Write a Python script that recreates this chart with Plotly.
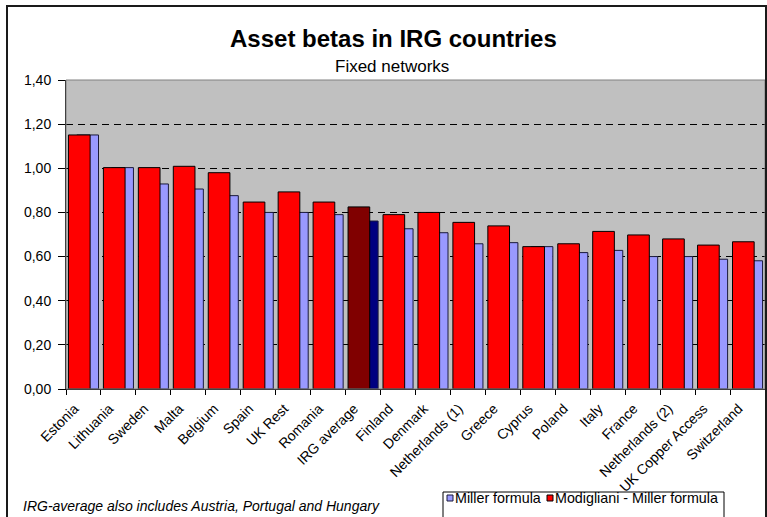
import plotly.graph_objects as go

# Asset beta estimates per country, fixed networks
categories = [
    "Estonia", "Lithuania", "Sweden", "Malta", "Belgium", "Spain", "UK Rest",
    "Romania", "IRG average", "Finland", "Denmark", "Netherlands (1)", "Greece",
    "Cyprus", "Poland", "Italy", "France", "Netherlands (2)", "UK Copper Access",
    "Switzerland",
]
modigliani_miller = [1.151, 1.003, 1.003, 1.009, 0.980, 0.847, 0.893, 0.847, 0.825,
                     0.790, 0.800, 0.755, 0.739, 0.645, 0.658, 0.714, 0.698, 0.680,
                     0.652, 0.667]
miller = [1.151, 1.003, 0.929, 0.906, 0.876, 0.800, 0.800, 0.790, 0.761, 0.726,
          0.708, 0.658, 0.663, 0.645, 0.618, 0.628, 0.600, 0.600, 0.588, 0.581]
y_ticks = [0.0, 0.2, 0.4, 0.6, 0.8, 1.0, 1.2, 1.4]

title_text = "Asset betas in IRG countries"
subtitle_text = "Fixed networks"
footnote_text = "IRG-average also includes Austria, Portugal and Hungary"
series_names = ["Miller formula", "Modigliani - Miller formula"]
highlight = "IRG average"

FONT = "Liberation Sans, Arial, sans-serif"
W, H = 767, 517
ML, MR, MT, MB = 66, 2, 80, 128
PW, PH = W - ML - MR, H - MT - MB


def px(x):
    return (x - ML) / PW


def py(y):
    return (H - MB - y) / PH


blue_cols = ["#000080" if c == highlight else "#9999FF" for c in categories]
red_cols = ["#800000" if c == highlight else "#FF0000" for c in categories]

fig = go.Figure()
fig.add_trace(go.Bar(
    x=categories, y=miller, name=series_names[0],
    marker=dict(color=blue_cols, line=dict(color="#1a1a3a", width=1)),
    width=0.62, offset=-0.19,
))
fig.add_trace(go.Bar(
    x=categories, y=modigliani_miller, name=series_names[1],
    marker=dict(color=red_cols, line=dict(color="#000000", width=1)),
    width=0.62, offset=-0.43,
))

shapes = [
    # plot area frame
    dict(type="rect", xref="paper", yref="paper", x0=0, x1=1, y0=0, y1=1,
         line=dict(color="#808080", width=1), layer="above"),
    # chart frame
    dict(type="rect", xref="paper", yref="paper", x0=px(7), x1=px(766),
         y0=py(560), y1=py(6), line=dict(color="#1a1a1a", width=2)),
    # legend box and swatches
    dict(type="rect", xref="paper", yref="paper", x0=px(443), x1=px(724),
         y0=py(560), y1=py(492), line=dict(color="#000000", width=1),
         fillcolor="white"),
    dict(type="rect", xref="paper", yref="paper", x0=px(447), x1=px(453),
         y0=py(501), y1=py(495), line=dict(color="#1a1a3a", width=1),
         fillcolor="#9999FF"),
    dict(type="rect", xref="paper", yref="paper", x0=px(547), x1=px(553),
         y0=py(501), y1=py(495), line=dict(color="#000000", width=1),
         fillcolor="#FF0000"),
]

annotations = [
    dict(text=f"<b>{title_text}</b>", x=px(393), y=py(38), xref="paper",
         yref="paper", xanchor="center", yanchor="middle", showarrow=False,
         font=dict(family=FONT, size=24, color="black")),
    dict(text=subtitle_text, x=px(392), y=py(66), xref="paper", yref="paper",
         xanchor="center", yanchor="middle", showarrow=False,
         font=dict(family=FONT, size=17, color="black")),
    dict(text=f"<i>{footnote_text}</i>", x=px(21), y=py(506), xref="paper",
         yref="paper", xanchor="left", yanchor="middle", showarrow=False,
         font=dict(family=FONT, size=14, color="black")),
    dict(text=series_names[0], x=px(453), y=py(498), xref="paper", yref="paper",
         xanchor="left", yanchor="middle", showarrow=False,
         font=dict(family=FONT, size=14.3, color="black")),
    dict(text=series_names[1], x=px(553), y=py(498), xref="paper", yref="paper",
         xanchor="left", yanchor="middle", showarrow=False,
         font=dict(family=FONT, size=14.3, color="black")),
]

fig.update_layout(
    width=W, height=H,
    margin=dict(l=ML, r=MR, t=MT, b=MB, autoexpand=False),
    paper_bgcolor="white", plot_bgcolor="#C0C0C0",
    barmode="overlay", showlegend=False,
    separators=",.",
    font=dict(family=FONT, size=14, color="black"),
    shapes=shapes, annotations=annotations,
)
fig.update_xaxes(
    type="category", tickangle=-45, tickson="boundaries", ticks="outside",
    ticklen=5, tickcolor="black", showline=True, linecolor="black",
    linewidth=1, showgrid=False, tickfont=dict(family=FONT, size=14),
    range=[-0.5, len(categories) - 0.5],
    ticklabelshift=-9, ticklabelstandoff=5,
)
fig.update_yaxes(
    range=[0, 1.4], tickvals=y_ticks, tickformat=".2f", ticks="outside",
    ticklen=7, tickcolor="black", showline=True, linecolor="black",
    linewidth=1, showgrid=True, gridcolor="black", gridwidth=1,
    griddash="7px,5px", zeroline=False, tickfont=dict(family=FONT, size=14),
    ticklabelstandoff=4,
)

fig.write_html("out.html")
